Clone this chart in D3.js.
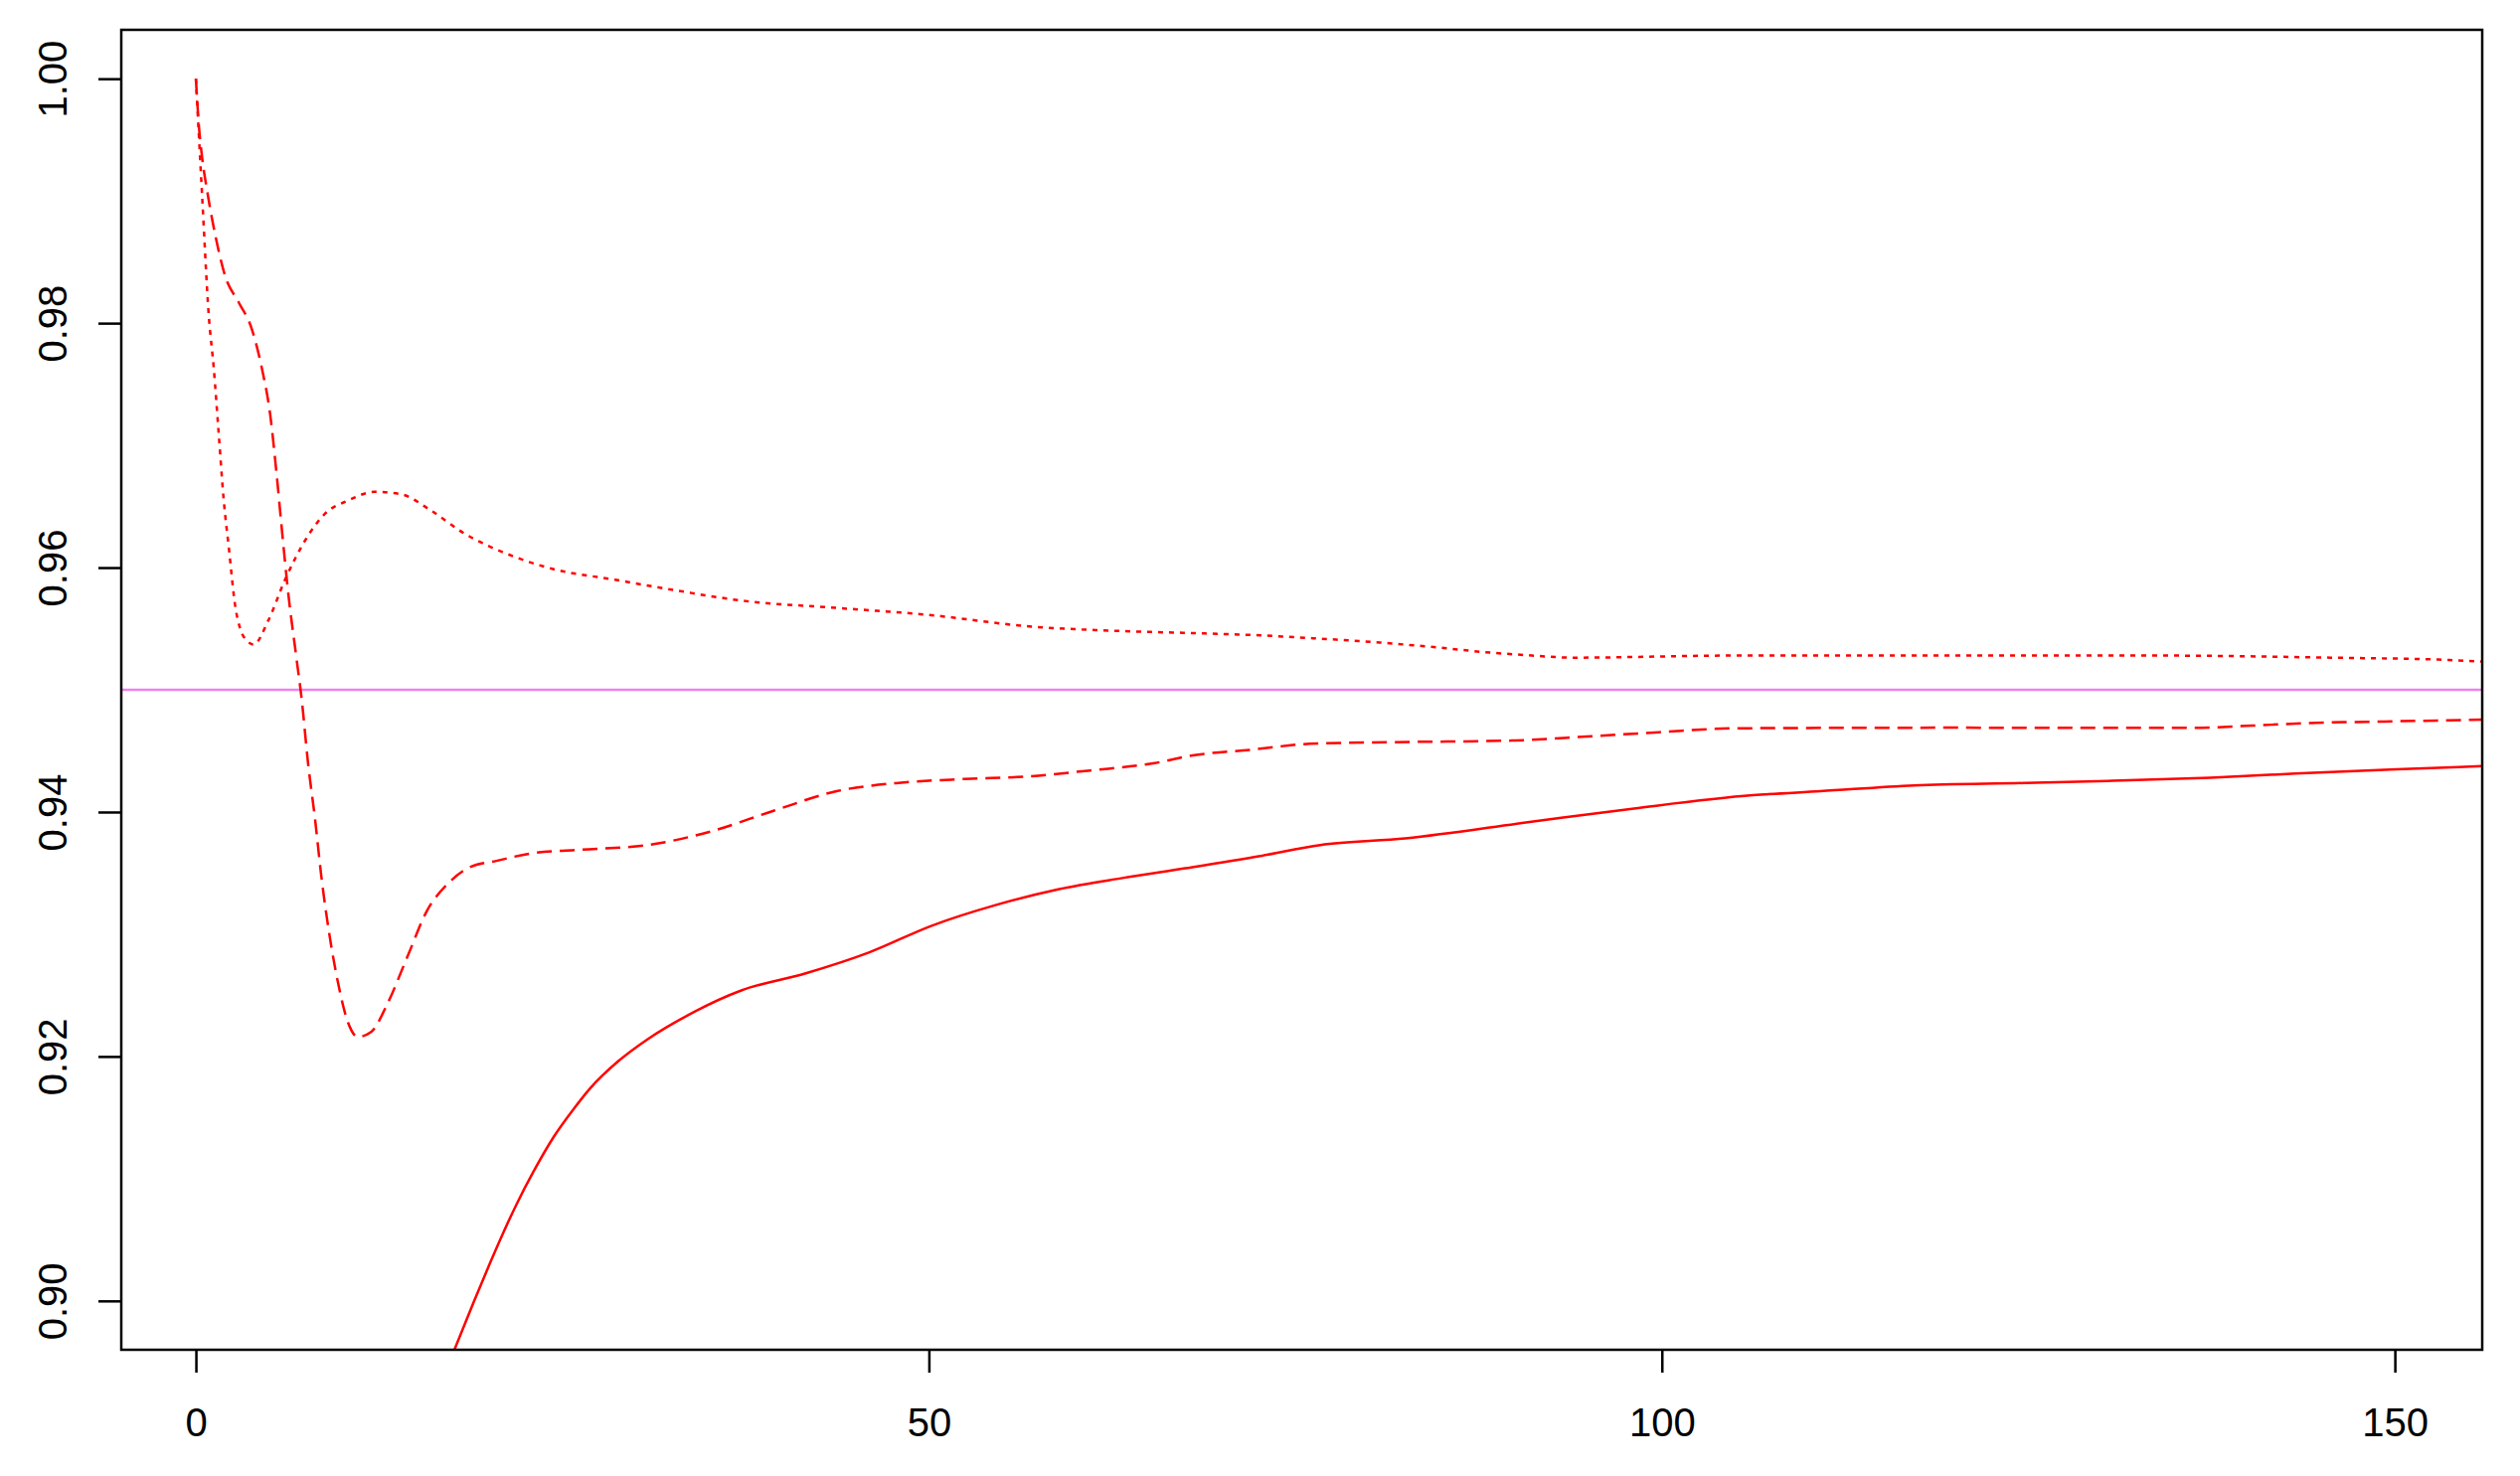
<!DOCTYPE html>
<html>
<head>
<meta charset="utf-8">
<script src="https://cdn.jsdelivr.net/npm/d3@7"></script>
<style>
  html, body { margin: 0; padding: 0; background: #fff; }
  svg { display: block; }
  text { font-family: "Liberation Sans", Arial, sans-serif; fill: #000; }
</style>
</head>
<body>
<svg id="chart" width="2535" height="1485"></svg>
<script>
// --- Data ---
const xTicks = [0, 50, 100, 150];
const yTicks = [0.90, 0.92, 0.94, 0.96, 0.98, 1.00];
const refLevel = 0.95;

// dotted curve (dips early, then settles just above 0.95)
const upperX = [0, 0.43, 0.88, 1.22, 1.56, 1.9, 2.24, 2.69, 3.05, 3.5, 3.93, 4.95, 6.08, 7.44, 8.8,
  10.4, 12.2, 14, 16, 18.3, 21.7, 24.3, 28.6, 32.9, 37.2, 43.7, 50.2, 56.7, 63.2, 68, 72.6, 76.7,
  80.8, 84.8, 88.3, 90.6, 94, 105, 120, 134, 145.6, 153.7, 156];
const upperY = [1.0, 0.9903, 0.9806, 0.9763, 0.9709, 0.9655, 0.9617, 0.9568, 0.9549, 0.9540, 0.9537,
  0.9557, 0.9590, 0.9622, 0.9644, 0.9655, 0.9662, 0.9660, 0.9647, 0.9628, 0.9609, 0.9599, 0.9590,
  0.9581, 0.9573, 0.9567, 0.9561, 0.9552, 0.9548, 0.95464, 0.95445, 0.95418, 0.95386, 0.95345,
  0.95304, 0.95285, 0.95263, 0.9528, 0.9528, 0.9528, 0.95263, 0.95244, 0.9523];

// dashed curve (falls to ~0.921, then climbs towards 0.95)
const middleX = [0, 0.2, 0.43, 0.77, 1.34, 2.01, 2.92, 3.82, 4.5, 5.07, 5.51, 5.85, 6.3, 6.87, 7.21,
  7.66, 8.12, 8.56, 9.13, 9.7, 10.37, 11.05, 11.95, 13.1, 14.44, 15.8, 17.16, 18.7, 20.5, 22.8, 26,
  30.8, 35.1, 39.4, 43.7, 48.1, 52.4, 56.7, 61, 65.4, 68, 72, 76, 81.3, 89.9, 95.2, 99.8, 105, 120,
  136.2, 140.3, 143.7, 150, 156];
const middleY = [1.0, 0.9962, 0.9935, 0.9908, 0.9871, 0.9838, 0.9817, 0.9795, 0.9763, 0.9725, 0.9676,
  0.9633, 0.9579, 0.9525, 0.9493, 0.9439, 0.9395, 0.9347, 0.9298, 0.9260, 0.9228, 0.9216, 0.9220,
  0.9244, 0.9282, 0.9320, 0.9341, 0.9355, 0.9360, 0.9366, 0.9369, 0.9373, 0.9384, 0.9401, 0.9417,
  0.9424, 0.9427, 0.9429, 0.9434, 0.9440, 0.94463, 0.9451, 0.94558, 0.94571, 0.94585, 0.9462,
  0.94653, 0.94685, 0.9469, 0.94688, 0.94707, 0.94726, 0.94742, 0.94756];

// solid curve (enters from below the frame)
const lowerX = [17.6, 18.95, 20.1, 20.9, 21.87, 23.04, 24.4, 25.77, 26.9, 28.8, 30.8, 33.6, 37.2,
  41.6, 45.9, 50.2, 54.6, 58.9, 63.2, 67.5, 72.6, 76.7, 82.5, 91.1, 98.1, 106.2, 110.8, 117.2,
  124.7, 130.4, 137.4, 143.2, 150.1, 156];
const lowerY = [0.8959, 0.8999, 0.9032, 0.9054, 0.9079, 0.9106, 0.9134, 0.9157, 0.9174, 0.9196,
  0.9214, 0.9234, 0.9254, 0.9268, 0.9285, 0.9307, 0.9324, 0.9337, 0.9346, 0.9354, 0.9364, 0.9373,
  0.93784, 0.9392, 0.94029, 0.94137, 0.9417, 0.94218, 0.94237, 0.94254, 0.94281, 0.94314, 0.94349,
  0.94376];

// --- Layout ---
const box = { left: 122, right: 2497, top: 30, bottom: 1358 };
const FONT_SIZE = 40;
const TICK = 23;

const svg = d3.select("#chart");

const x = d3.scaleLinear().domain([-5.09, 155.96]).range([box.left, box.right]);
const y = d3.scaleLinear().domain([0.896, 1.004]).range([box.bottom, box.top]);

svg.append("defs").append("clipPath").attr("id", "plot-clip")
  .append("rect")
  .attr("x", box.left).attr("y", box.top)
  .attr("width", box.right - box.left).attr("height", box.bottom - box.top);

const zip = (xs, ys) => xs.map((v, i) => [v, ys[i]]);
const line = d3.line().x(d => x(d[0])).y(d => y(d[1])).curve(d3.curveMonotoneX);

const plot = svg.append("g").attr("clip-path", "url(#plot-clip)");

// reference level
plot.append("line")
  .attr("x1", box.left).attr("x2", box.right)
  .attr("y1", y(refLevel)).attr("y2", y(refLevel))
  .attr("stroke", "#ee82ee").attr("stroke-width", 2.5);

const series = [
  { pts: zip(upperX, upperY), dash: "5,6" },
  { pts: zip(middleX, middleY), dash: "15,8" },
  { pts: zip(lowerX, lowerY), dash: null }
];

series.forEach(s => {
  plot.append("path")
    .attr("d", line(s.pts))
    .attr("fill", "none")
    .attr("stroke", "#ff0000")
    .attr("stroke-width", 2.5)
    .attr("stroke-dasharray", s.dash);
});

// --- Axes ---
const xAxis = d3.axisBottom(x).tickValues(xTicks).tickSize(TICK).tickPadding(18)
  .tickFormat(d3.format("d"));
const gx = svg.append("g").attr("transform", `translate(0,${box.bottom})`).call(xAxis);
gx.select(".domain").remove();
gx.selectAll("line").attr("stroke", "#000").attr("stroke-width", 2.5);
gx.selectAll("text").attr("font-size", FONT_SIZE).attr("dy", null)
  .attr("y", 1445 - box.bottom).attr("fill", "#000");

const yAxis = d3.axisLeft(y).tickValues(yTicks).tickSize(TICK).tickFormat(d3.format(".2f"));
const gy = svg.append("g").attr("transform", `translate(${box.left},0)`).call(yAxis);
gy.select(".domain").remove();
gy.selectAll("line").attr("stroke", "#000").attr("stroke-width", 2.5);
gy.selectAll("text")
  .attr("font-size", FONT_SIZE)
  .attr("x", null).attr("dy", null)
  .attr("text-anchor", "middle")
  .attr("transform", `translate(${67 - box.left},0) rotate(-90)`)
  .attr("fill", "#000");

// frame
svg.append("rect")
  .attr("x", box.left).attr("y", box.top)
  .attr("width", box.right - box.left).attr("height", box.bottom - box.top)
  .attr("fill", "none").attr("stroke", "#000").attr("stroke-width", 2.5);
</script>
</body>
</html>
